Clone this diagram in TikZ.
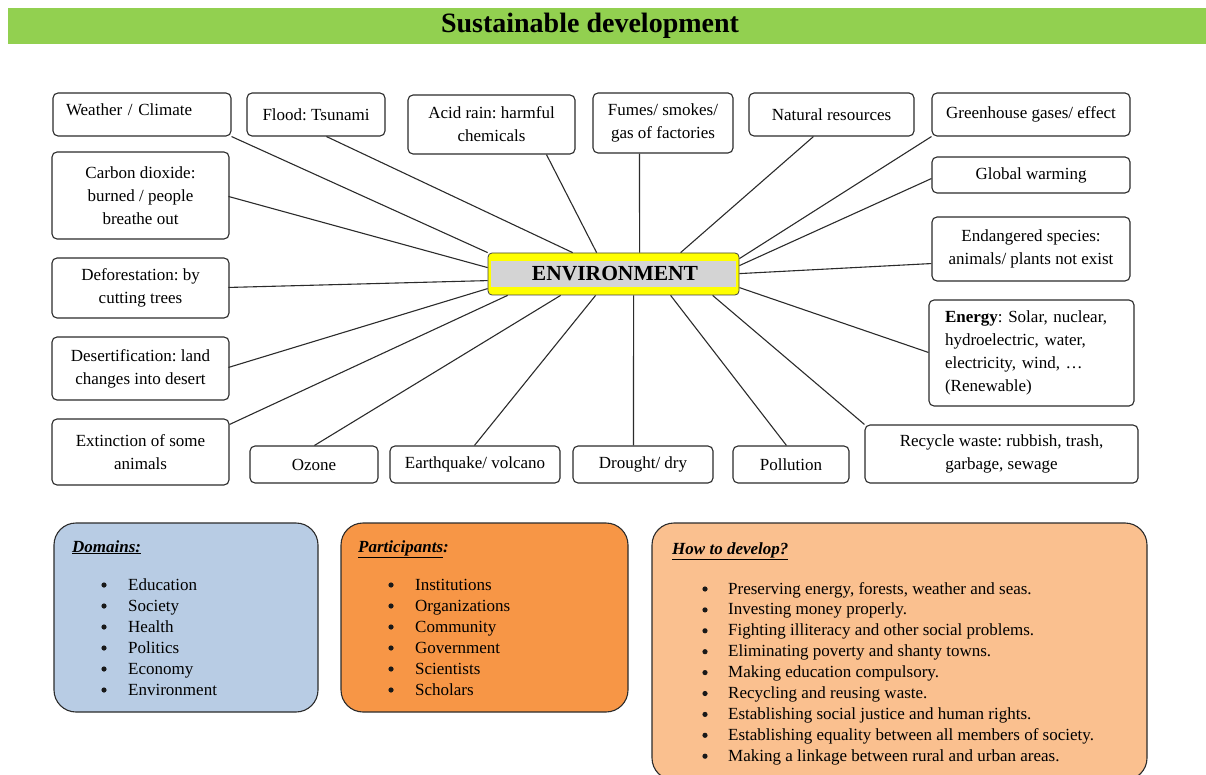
\documentclass[tikz,border=0pt]{standalone}
\usepackage{fontspec}
\setmainfont{Liberation Serif}
\usetikzlibrary{calc}
\frenchspacing
\definecolor{titlegreen}{HTML}{92D050}
\definecolor{envyellow}{HTML}{FFFF00}
\definecolor{envgray}{HTML}{D4D4D4}
\definecolor{domblue}{HTML}{B8CCE4}
\definecolor{partorange}{HTML}{F79646}
\definecolor{howorange}{HTML}{FAC08F}
\definecolor{edge}{HTML}{2B2B2B}
\newcommand{\mytopic}[7][]{\node[topic,#1,minimum width={#5pt-#3pt},minimum height={#6pt-#4pt}] (#2) at ({(#3+#5)/2},{(#4+#6)/2}) {#7};}
\tikzset{
  bodyfont/.style={font=\fontsize{17}{23}\selectfont},
  topic/.style={draw=edge, line width=1.1pt, rounded corners=5pt, fill=white, align=center, inner sep=0pt, bodyfont},
  conn/.style={draw=edge, line width=1.1pt},
  panel/.style={draw=edge, line width=1.1pt, rounded corners=22pt, inner sep=0pt},
  bul/.style={circle, fill=black!90, inner sep=0pt, minimum size=5.2pt},
  itemtext/.style={anchor=base west, inner sep=0pt, font=\fontsize{17}{21}\selectfont},
}
\begin{document}
\begin{tikzpicture}[x=1pt,y=-1pt]
\useasboundingbox (0,0) rectangle (1206,775);
\clip (0,0) rectangle (1206,775);
% title
\node[fill=titlegreen, minimum width=1198pt, minimum height=36pt, inner sep=0pt] (titlebar) at (607,26) {};
\node[font=\fontsize{28}{30}\selectfont\bfseries, inner sep=0pt] (title) at (590,26) {Sustainable development};

% central node
\node[draw=black!75, line width=0.8pt, fill=envyellow, rounded corners=4pt, minimum width=251pt, minimum height=42pt, inner sep=0pt] (env) at (613.5,274) {};
\fill[envgray] ($(env.north west)+(3,8)$) rectangle ($(env.south east)+(-3,-8)$);
\node[font=\fontsize{21.5}{24}\selectfont\bfseries, inner sep=0pt] (envlabel) at (615,274) {ENVIRONMENT};

% topic boxes
\mytopic[align=left, text width=152pt, inner xsep=13pt, text depth=9pt]{wc}{53}{93}{231}{136}{Weather / Climate}
\mytopic{fl}{247}{93}{385}{136}{Flood: Tsunami}
\mytopic{acid}{408}{95}{575}{154}{Acid rain: harmful\\chemicals}
\mytopic{fumes}{593}{93}{733}{153}{Fumes/ smokes/\\gas of factories}
\mytopic{nat}{749}{93}{914}{136}{Natural resources}
\mytopic{gh}{932}{93}{1130}{136}{Greenhouse gases/ effect}
\mytopic{gw}{932}{157}{1130}{193}{Global warming}
\mytopic{endg}{932}{217}{1130}{281}{Endangered species:\\animals/ plants not exist}
\mytopic[align=left, text width=173pt, inner xsep=16pt]{energy}{929}{300}{1134}{406}{\textbf{Energy}: Solar, nuclear,\\hydroelectric, water,\\electricity, wind, …\\(Renewable)}
\mytopic{rec}{865}{425}{1138}{483}{Recycle waste: rubbish, trash,\\garbage, sewage}
\mytopic{co}{52}{152}{229}{239}{Carbon dioxide:\\burned / people\\breathe out}
\mytopic{def}{52}{258}{229}{318}{Deforestation: by\\cutting trees}
\mytopic{des}{52}{337}{229}{400}{Desertification: land\\changes into desert}
\mytopic{ext}{52}{419}{229}{485}{Extinction of some\\animals}
\mytopic{oz}{250}{446}{378}{483}{Ozone}
\mytopic{eq}{390}{446}{560}{483}{Earthquake/ volcano}
\mytopic{dr}{573}{446}{713}{483}{Drought/ dry}
\mytopic{pol}{733}{446}{849}{483}{Pollution}

% connectors
\draw[conn] (wc.south east) -- (env.north west);
\draw[conn] ($(fl.south west)+(80,0)$) -- ($(env.north west)+(85,0)$);
\draw[conn] ($(acid.south west)+(139,0)$) -- ($(env.north west)+(109,0)$);
\draw[conn] ($(fumes.south west)+(47,0)$) -- ($(env.north west)+(152,0)$);
\draw[conn] ($(nat.south west)+(65,0)$) -- ($(env.north west)+(193,0)$);
\draw[conn] (gh.south west) -- ($(env.north east)+(0,6)$);
\draw[conn] ($(gw.south west)+(0,-15)$) -- ($(env.north east)+(0,13)$);
\draw[conn] ($(endg.south west)+(0,-18)$) -- ($(env.north east)+(0,21)$);
\draw[conn] ($(energy.north west)+(0,53)$) -- ($(env.north east)+(0,35)$);
\draw[conn] (rec.north west) -- ($(env.south west)+(225,0)$);
\draw[conn] ($(pol.north west)+(54,0)$) -- ($(env.south west)+(183,0)$);
\draw[conn] ($(dr.north west)+(61,0)$) -- ($(env.south west)+(146,0)$);
\draw[conn] ($(eq.north west)+(85,0)$) -- ($(env.south west)+(108,0)$);
\draw[conn] ($(oz.north west)+(65,0)$) -- ($(env.south west)+(73,0)$);
\draw[conn] ($(ext.north east)+(0,6)$) -- ($(env.south west)+(20,0)$);
\draw[conn] ($(des.north west)+(177,31)$) -- ($(env.north west)+(0,36)$);
\draw[conn] ($(def.north west)+(177,30)$) -- ($(env.north west)+(0,28)$);
\draw[conn] ($(co.north west)+(177,45)$) -- ($(env.north west)+(0,15)$);

% bottom panels
\node[panel, fill=domblue, minimum width=264pt, minimum height=189pt] (dom) at (186,617.5) {};
\node[panel, fill=partorange, minimum width=287pt, minimum height=189pt] (part) at (484.5,617.5) {};
\node[panel, fill=howorange, minimum width=495pt, minimum height=257pt] (how) at (899.5,651.5) {};

\node[itemtext] (domhead) at (72,552) {\textbf{\textit{\underline{Domains:}}}};
\node[itemtext] (parthead) at (358,552) {\textbf{\textit{\underline{Participants}:}}};
\node[itemtext] (howhead) at (672,554) {\textbf{\textit{\underline{How to develop?}}}};

\foreach \t [count=\i] in {Education,Society,Health,Politics,Economy,Environment}{
  \node[bul] (db\i) at (104,{585+(\i-1)*21}) {};
  \node[itemtext] (dt\i) at (128,{590+(\i-1)*21}) {\t};
}
\foreach \t [count=\i] in {Institutions,Organizations,Community,Government,Scientists,Scholars}{
  \node[bul] (pb\i) at (391,{585+(\i-1)*21}) {};
  \node[itemtext] (pt\i) at (415,{590+(\i-1)*21}) {\t};
}
\foreach \t [count=\i] in {{Preserving energy, forests, weather and seas.},{Investing money properly.},{Fighting illiteracy and other social problems.},{Eliminating poverty and shanty towns.},{Making education compulsory.},{Recycling and reusing waste.},{Establishing social justice and human rights.},{Establishing equality between all members of society.},{Making a linkage between rural and urban areas.}}{
  \node[bul] (hb\i) at (705,{589+(\i-1)*20.9}) {};
  \node[itemtext] (ht\i) at (728,{594+(\i-1)*20.9}) {\t};
}
\end{tikzpicture}
\end{document}
